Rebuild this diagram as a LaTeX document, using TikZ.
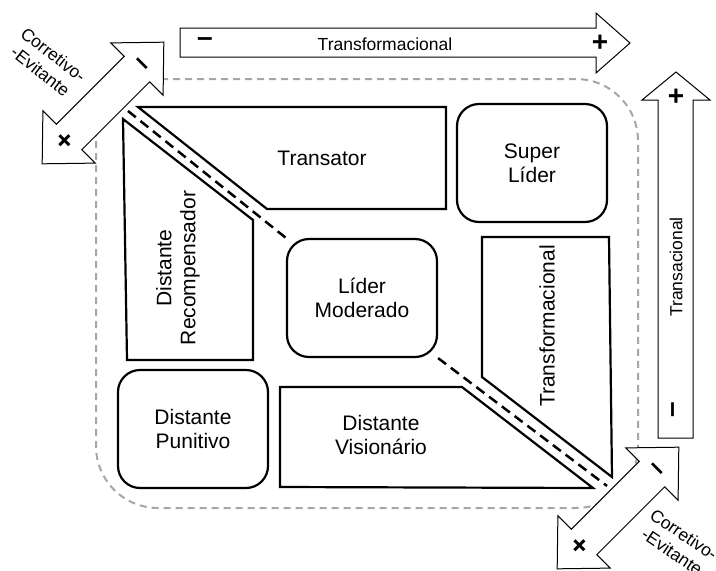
\documentclass[tikz,border=0pt]{standalone}
\usepackage{fontspec}
\setmainfont{Liberation Sans}
\newcommand{\lblfont}{\fontsize{21}{24}\selectfont}
\newcommand{\axfont}{\fontsize{17.5}{21}\selectfont}
\newcommand{\signfont}{\fontsize{28}{28}\selectfont\bfseries}
\begin{document}
\begin{tikzpicture}[x=1pt,y=-1pt,
  zone/.style={draw=black!35,line width=2pt,dash pattern=on 7pt off 5pt,rounded corners=62pt},
  field/.style={draw,line width=2.2pt,line join=miter},
  roundbox/.style={draw,line width=2.2pt,rounded corners=22pt,align=center,font=\lblfont,
    minimum width=150pt,minimum height=118pt},
  lbl/.style={align=center,font=\lblfont},
  road/.style={line width=2.5pt,dash pattern=on 10pt off 6pt},
  axis/.style={draw,fill=white,line width=1pt,line join=miter},
  axlbl/.style={align=center,font=\axfont},
  sign/.style={font=\signfont,inner sep=0pt}]
\useasboundingbox (0,0) rectangle (716,571);

% region
\draw[zone] (96,79) rectangle (638,508);

% fields
\draw[field] (138,107) -- (446,107) -- (446,209) -- (267,209) -- cycle;
\draw[field] (123,119) -- (253,220) -- (253,360) -- (127,360) -- cycle;
\draw[field] (482,237) -- (609,237) -- (612,477) -- (482,377) -- cycle;
\draw[field] (280,387) -- (462,387) -- (593,488) -- (280,487) -- cycle;

\node[lbl] (transator) at (322,158) {Transator};
\node[lbl,rotate=90] (recomp) at (178,268) {Distante\\Recompensador};
\node[lbl,rotate=90] (transf) at (547,326) {Transformacional};
\node[lbl] (visionario) at (381,435) {Distante\\Visionário};
\node[roundbox] (super) at (532,163) {Super\\Líder};
\node[roundbox] (lider) at (362,298) {Líder\\Moderado};
\node[roundbox] (punitivo) at (193,429) {Distante\\Punitivo};

% diagonal
\coordinate (roadA) at (128,111);
\coordinate (roadB) at (607,486);
\draw[road] (roadA) -- (lider.north west);
\draw[road] (lider.south east) -- (roadB);

% axes
\draw[axis] (180,28) -- (596,28) -- (596,13) -- (630,43) -- (596,73) -- (596,57) -- (180,57) -- cycle;
\node[sign] (tminus) at (205,42) {–};
\node[axlbl] (tlabel) at (385,44) {Transformacional};
\node[sign] (tplus) at (600,43) {+};

\draw[axis] (658,438) -- (658,100) -- (642,100) -- (676,72) -- (710,100) -- (693,100) -- (693,438) -- cycle;
\node[sign] (rplus) at (676,97) {+};
\node[axlbl,rotate=90] (rlabel) at (676,267) {Transacional};
\node[sign,rotate=90] (rminus) at (676,410) {–};

\begin{scope}[shift={(103,103)},rotate=-45]
  \draw[axis] (0,-86) -- (37,-48) -- (18,-48) -- (18,48) -- (37,48) -- (0,86)
    -- (-37,48) -- (-18,48) -- (-18,-48) -- (-37,-48) -- cycle;
  \node[sign,rotate=-45] (nwminus) at (0,-52) {–};
  \node[sign,rotate=-45] (nwplus) at (0,55) {+};
\end{scope}
\node[axlbl,rotate=-38] (nwlabel) at (47,63) {Corretivo-\\-Evitante};

\begin{scope}[shift={(618,508)},rotate=-45]
  \draw[axis] (0,-86) -- (37,-48) -- (18,-48) -- (18,48) -- (37,48) -- (0,86)
    -- (-37,48) -- (-18,48) -- (-18,-48) -- (-37,-48) -- cycle;
  \node[sign,rotate=-45] (seminus) at (0,-52) {–};
  \node[sign,rotate=-45] (seplus) at (0,55) {+};
\end{scope}
\node[axlbl,rotate=-34] (selabel) at (678,543) {Corretivo-\\-Evitante};
\end{tikzpicture}
\end{document}
